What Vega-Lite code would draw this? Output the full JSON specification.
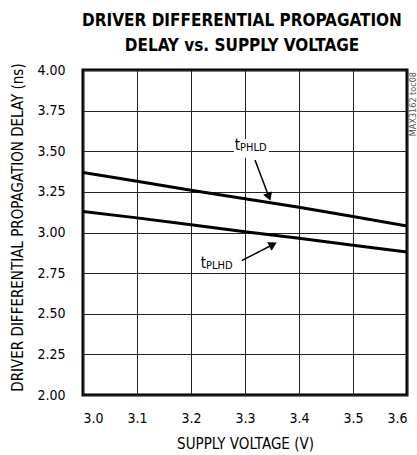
{
  "$schema": "https://vega.github.io/schema/vega-lite/v6.json",
  "width": 324,
  "height": 325,
  "autosize": "none",
  "padding": {"left": 83, "top": 70, "right": 10, "bottom": 60},
  "background": "white",
  "title": {
    "text": ["DRIVER DIFFERENTIAL PROPAGATION", "DELAY vs. SUPPLY VOLTAGE"],
    "font": "DejaVu Sans Condensed",
    "fontWeight": "bold",
    "fontSize": 17,
    "lineHeight": 25,
    "color": "black",
    "anchor": "middle",
    "offset": 18,
    "dx": -3,
    "dy": 10
  },
  "config": {
    "view": {"stroke": "black", "strokeWidth": 3},
    "axis": {
      "labelFont": "DejaVu Sans Condensed",
      "titleFont": "DejaVu Sans Condensed",
      "labelFontSize": 14,
      "titleFontSize": 15,
      "labelColor": "black",
      "titleColor": "black",
      "titleFontWeight": "normal",
      "domain": false,
      "ticks": false,
      "grid": true,
      "gridColor": "#222",
      "gridWidth": 1,
      "gridOpacity": 1
    }
  },
  "datasets": {
    "curves": [
      {"v": 3.0, "delay": 3.37, "series": "tPHLD"},
      {"v": 3.1, "delay": 3.315, "series": "tPHLD"},
      {"v": 3.2, "delay": 3.26, "series": "tPHLD"},
      {"v": 3.3, "delay": 3.208, "series": "tPHLD"},
      {"v": 3.4, "delay": 3.155, "series": "tPHLD"},
      {"v": 3.5, "delay": 3.098, "series": "tPHLD"},
      {"v": 3.6, "delay": 3.04, "series": "tPHLD"},
      {"v": 3.0, "delay": 3.13, "series": "tPLHD"},
      {"v": 3.1, "delay": 3.09, "series": "tPLHD"},
      {"v": 3.2, "delay": 3.048, "series": "tPLHD"},
      {"v": 3.3, "delay": 3.005, "series": "tPLHD"},
      {"v": 3.4, "delay": 2.965, "series": "tPLHD"},
      {"v": 3.5, "delay": 2.922, "series": "tPLHD"},
      {"v": 3.6, "delay": 2.88, "series": "tPLHD"}
    ],
    "labels": [
      {"series": "tPHLD", "t": "t", "sub": "PHLD", "lx": 3.2907, "ly": 3.508, "bx": 3.2795, "bx2": 3.3445, "by": 3.46, "by2": 3.575},
      {"series": "tPLHD", "t": "t", "sub": "PLHD", "lx": 3.2278, "ly": 2.7815}
    ],
    "arrows": [
      {"series": "tPHLD", "x1": 3.3185, "y1": 3.446, "x2": 3.3444, "y2": 3.2185},
      {"series": "tPLHD", "x1": 3.2939, "y1": 2.8265, "x2": 3.3519, "y2": 2.926}
    ],
    "notes": [
      {"note": "MAX3162 toc08", "x": 3.6, "y": 4.0}
    ]
  },
  "layer": [
    {
      "data": {"name": "curves"},
      "mark": {"type": "line", "color": "black", "strokeWidth": 3, "clip": true},
      "encoding": {
        "x": {
          "field": "v", "type": "quantitative",
          "scale": {"domain": [3.0, 3.6], "nice": false},
          "axis": {
            "values": [3.0, 3.1, 3.2, 3.3, 3.4, 3.5, 3.6],
            "format": ".1f",
            "labelPadding": 16,
            "title": "SUPPLY VOLTAGE (V)",
            "titleY": 48,
            "titleBaseline": "middle"
          }
        },
        "y": {
          "field": "delay", "type": "quantitative",
          "scale": {"domain": [2.0, 4.0], "nice": false, "zero": false},
          "axis": {
            "values": [2.0, 2.25, 2.5, 2.75, 3.0, 3.25, 3.5, 3.75, 4.0],
            "format": ".2f",
            "labelPadding": 18,
            "title": "DRIVER DIFFERENTIAL PROPAGATION DELAY (ns)",
            "titleX": -66,
            "titleY": 157,
            "titleBaseline": "middle",
            "titleAngle": -90
          }
        },
        "detail": {"field": "series"}
      }
    },
    {
      "data": {"name": "labels"},
      "transform": [{"filter": "datum.series == 'tPHLD'"}],
      "mark": {"type": "rect", "color": "white"},
      "encoding": {
        "x": {"field": "bx", "type": "quantitative"},
        "x2": {"field": "bx2"},
        "y": {"field": "by", "type": "quantitative"},
        "y2": {"field": "by2"}
      }
    },
    {
      "data": {"name": "labels"},
      "mark": {"type": "text", "font": "DejaVu Sans Condensed", "fontSize": 15, "align": "right", "baseline": "alphabetic", "color": "black"},
      "encoding": {
        "x": {"field": "lx", "type": "quantitative"},
        "y": {"field": "ly", "type": "quantitative"},
        "text": {"field": "t"}
      }
    },
    {
      "data": {"name": "labels"},
      "mark": {"type": "text", "font": "DejaVu Sans Condensed", "fontSize": 11, "align": "left", "baseline": "alphabetic", "dy": 1, "color": "black"},
      "encoding": {
        "x": {"field": "lx", "type": "quantitative"},
        "y": {"field": "ly", "type": "quantitative"},
        "text": {"field": "sub"}
      }
    },
    {
      "data": {"name": "arrows"},
      "mark": {"type": "rule", "color": "black", "strokeWidth": 1.5},
      "encoding": {
        "x": {"field": "x1", "type": "quantitative"},
        "y": {"field": "y1", "type": "quantitative"},
        "x2": {"field": "x2"},
        "y2": {"field": "y2"}
      }
    },
    {
      "data": {"name": "arrows"},
      "transform": [{"filter": "datum.series == 'tPHLD'"}],
      "mark": {"type": "point", "shape": "triangle-up", "filled": true, "color": "black", "opacity": 1, "size": 90, "angle": 160},
      "encoding": {
        "x": {"field": "x2", "type": "quantitative"},
        "y": {"field": "y2", "type": "quantitative"}
      }
    },
    {
      "data": {"name": "arrows"},
      "transform": [{"filter": "datum.series == 'tPLHD'"}],
      "mark": {"type": "point", "shape": "triangle-up", "filled": true, "color": "black", "opacity": 1, "size": 90, "angle": 62},
      "encoding": {
        "x": {"field": "x2", "type": "quantitative"},
        "y": {"field": "y2", "type": "quantitative"}
      }
    },
    {
      "data": {"name": "notes"},
      "mark": {"type": "text", "font": "DejaVu Sans Condensed", "fontSize": 9, "angle": 270, "align": "right", "baseline": "middle", "dx": -2, "dy": 6, "color": "#555", "clip": false},
      "encoding": {
        "x": {"field": "x", "type": "quantitative"},
        "y": {"field": "y", "type": "quantitative"},
        "text": {"field": "note"}
      }
    }
  ]
}
